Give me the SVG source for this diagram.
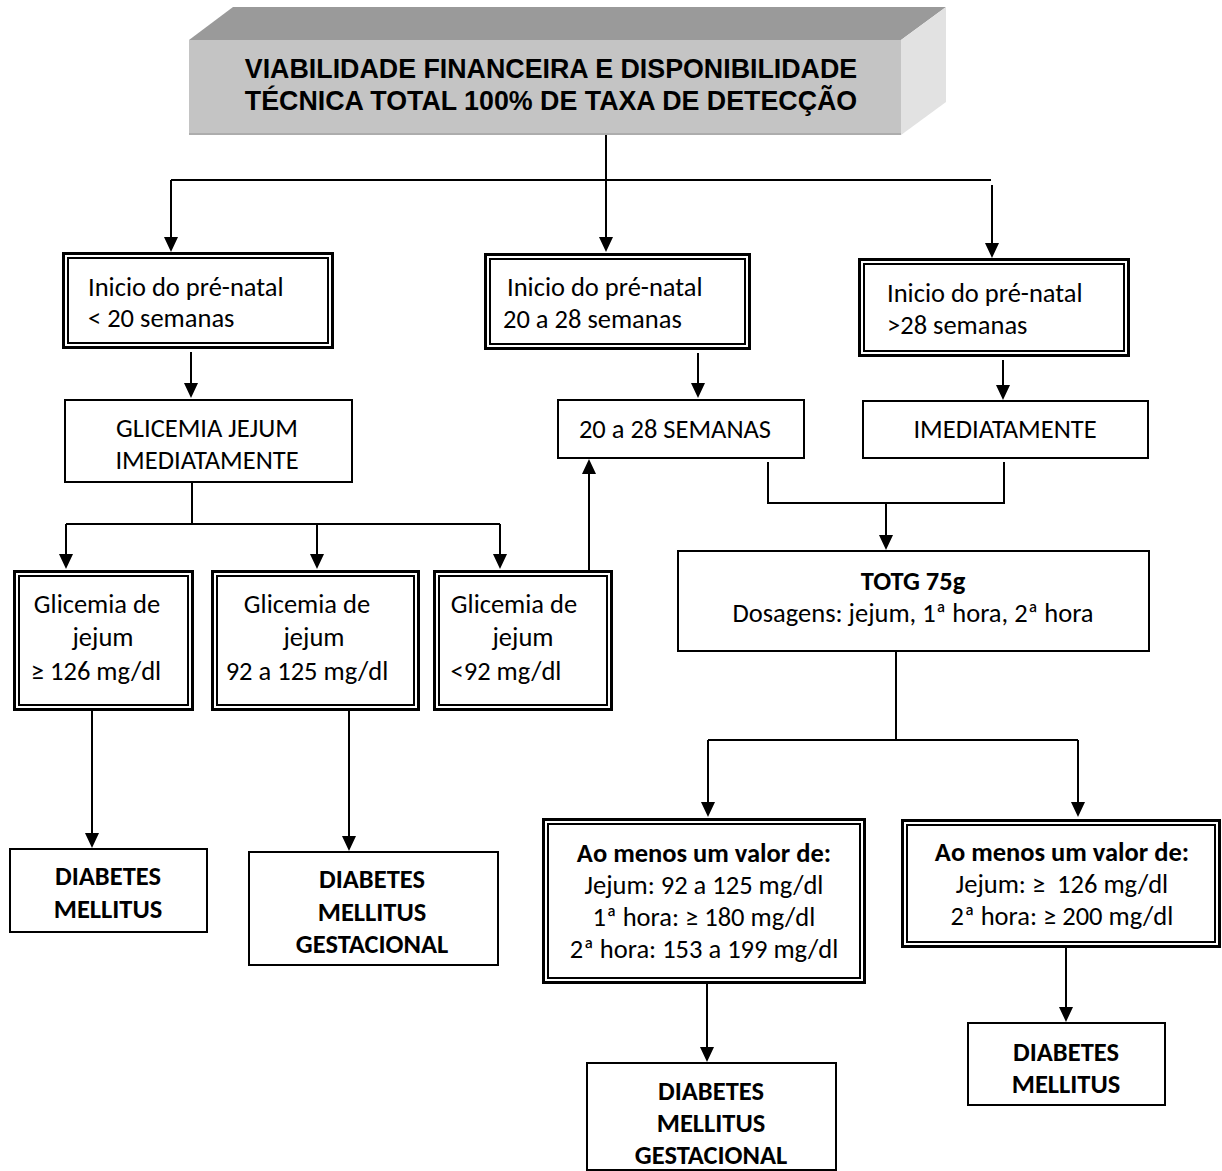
<svg xmlns="http://www.w3.org/2000/svg" width="1222" height="1171" viewBox="0 0 1222 1171">
  <style>
    .bo { fill: #fff; stroke: #000; stroke-width: 3; }
    .bi { fill: none; stroke: #000; stroke-width: 2; }
    .box { fill: #fff; stroke: #000; stroke-width: 2; }
    .ln { fill: none; stroke: #000; stroke-width: 2; }
    .ar { marker-end: url(#ah); }
    .t { font-family: Carlito, Calibri, Lato, sans-serif; font-size: 26.5px; fill: #000; white-space: pre; }
    .b { font-weight: bold; }
    .c { text-anchor: middle; }
    .h { font-family: "Liberation Sans", Arial, sans-serif; font-weight: bold; font-size: 26.8px; text-anchor: middle; fill: #000; }
  </style>
  <defs>
    <marker id="ah" markerUnits="userSpaceOnUse" markerWidth="15" markerHeight="14" viewBox="0 0 15 14" refX="11" refY="7" orient="auto">
      <path d="M0,0 L15,7 L0,14 z" fill="#000"/>
    </marker>
  </defs>
  <rect width="1222" height="1171" fill="#fff"/>

  <!-- 3D title block -->
  <g id="header">
    <polygon points="189,40 233,7 946,7 901,40" fill="#9a9a9a"/>
    <polygon points="901,40 946,7 946,102 901,135" fill="#e2e2e2"/>
    <rect x="189" y="40" width="712" height="95" fill="#c4c4c4"/>
    <line x1="189" y1="134" x2="901" y2="134" stroke="#adadad" stroke-width="2"/>
    <text class="h" x="551" y="78">VIABILIDADE FINANCEIRA E DISPONIBILIDADE</text>
    <text class="h" x="551" y="110">TÉCNICA TOTAL 100% DE TAXA DE DETECÇÃO</text>
  </g>

  <!-- connectors -->
  <g id="connectors">
    <path class="ln ar" d="M606,135 V248"/>
    <path class="ln" d="M171,180 H991"/>
    <path class="ln ar" d="M171,180 V248"/>
    <path class="ln ar" d="M992,185 V254"/>
    <path class="ln ar" d="M191,352 V394"/>
    <path class="ln ar" d="M698,353 V394"/>
    <path class="ln ar" d="M1003,360 V396"/>
    <path class="ln" d="M768,462 V503 H1004 V462"/>
    <path class="ln ar" d="M886,503 V546"/>
    <path class="ln" d="M192,482 V524 M66,524 H500"/>
    <path class="ln ar" d="M66,524 V565"/>
    <path class="ln ar" d="M317,524 V565"/>
    <path class="ln ar" d="M500,524 V565"/>
    <path class="ln ar" d="M589,570 V463"/>
    <path class="ln ar" d="M92,711 V844"/>
    <path class="ln ar" d="M349,711 V847"/>
    <path class="ln" d="M896,651 V740 M708,740 H1078"/>
    <path class="ln ar" d="M708,740 V813"/>
    <path class="ln ar" d="M1078,740 V813"/>
    <path class="ln ar" d="M707,984 V1058"/>
    <path class="ln ar" d="M1066,948 V1018"/>
  </g>

  <!-- start of prenatal care -->
  <g id="inicio-menos-20">
    <rect class="bo" x="63.5" y="253.5" width="269" height="94"/>
    <rect class="bi" x="68" y="258" width="260" height="85"/>
    <text class="t" x="88" y="296">Inicio do pré-natal</text>
    <text class="t" x="88" y="327">&lt; 20 semanas</text>
  </g>
  <g id="inicio-20-28">
    <rect class="bo" x="485.5" y="254.5" width="264" height="94"/>
    <rect class="bi" x="490" y="259" width="255" height="85"/>
    <text class="t" x="507" y="296">Inicio do pré-natal</text>
    <text class="t" x="503" y="328">20 a 28 semanas</text>
  </g>
  <g id="inicio-mais-28">
    <rect class="bo" x="859.5" y="259.5" width="269" height="96"/>
    <rect class="bi" x="864" y="264" width="260" height="87"/>
    <text class="t" x="887" y="302">Inicio do pré-natal</text>
    <text class="t" x="887" y="334">&gt;28 semanas</text>
  </g>

  <!-- timing -->
  <g id="glicemia-jejum">
    <rect class="box" x="65" y="400" width="287" height="82"/>
    <text class="t c" x="207" y="437">GLICEMIA JEJUM</text>
    <text class="t c" x="207" y="469">IMEDIATAMENTE</text>
  </g>
  <g id="semanas-20-28">
    <rect class="box" x="558" y="400" width="246" height="58"/>
    <text class="t c" x="675" y="438">20 a 28 SEMANAS</text>
  </g>
  <g id="imediatamente">
    <rect class="box" x="863" y="401" width="285" height="57"/>
    <text class="t c" x="1005" y="438">IMEDIATAMENTE</text>
  </g>

  <!-- fasting glucose results -->
  <g id="jejum-126">
    <rect class="bo" x="14.5" y="571.5" width="178" height="138"/>
    <rect class="bi" x="19" y="576" width="169" height="129"/>
    <text class="t c" x="97" y="613">Glicemia de</text>
    <text class="t c" x="103" y="646">jejum</text>
    <text class="t c" x="96" y="680">≥ 126 mg/dl</text>
  </g>
  <g id="jejum-92-125">
    <rect class="bo" x="212.5" y="571.5" width="206" height="138"/>
    <rect class="bi" x="217" y="576" width="197" height="129"/>
    <text class="t c" x="307" y="613">Glicemia de</text>
    <text class="t c" x="314" y="646">jejum</text>
    <text class="t c" x="307" y="680">92 a 125 mg/dl</text>
  </g>
  <g id="jejum-menos-92">
    <rect class="bo" x="434.5" y="571.5" width="177" height="138"/>
    <rect class="bi" x="439" y="576" width="168" height="129"/>
    <text class="t c" x="514" y="613">Glicemia de</text>
    <text class="t c" x="523" y="646">jejum</text>
    <text class="t c" x="506" y="680">&lt;92 mg/dl</text>
  </g>

  <g id="totg">
    <rect class="box" x="678" y="551" width="471" height="100"/>
    <text class="t b c" x="913" y="590">TOTG 75g</text>
    <text class="t c" x="913" y="622">Dosagens: jejum, 1ª hora, 2ª hora</text>
  </g>

  <g id="criterio-dmg">
    <rect class="bo" x="543.5" y="819.5" width="321" height="163"/>
    <rect class="bi" x="548" y="824" width="312" height="154"/>
    <text class="t b c" x="704" y="862">Ao menos um valor de:</text>
    <text class="t c" x="704" y="894">Jejum: 92 a 125 mg/dl</text>
    <text class="t c" x="704" y="926">1ª hora: ≥ 180 mg/dl</text>
    <text class="t c" x="704" y="958">2ª hora: 153 a 199 mg/dl</text>
  </g>
  <g id="criterio-dm">
    <rect class="bo" x="902.5" y="820.5" width="317" height="126"/>
    <rect class="bi" x="907" y="825" width="308" height="117"/>
    <text class="t b c" x="1062" y="861">Ao menos um valor de:</text>
    <text class="t c" x="1062" y="893">Jejum: ≥  126 mg/dl</text>
    <text class="t c" x="1062" y="925">2ª hora: ≥ 200 mg/dl</text>
  </g>

  <!-- diagnoses -->
  <g id="dm-1">
    <rect class="box" x="10" y="849" width="197" height="83"/>
    <text class="t b c" x="108" y="885">DIABETES</text>
    <text class="t b c" x="108" y="918">MELLITUS</text>
  </g>
  <g id="dmg-1">
    <rect class="box" x="249" y="852" width="249" height="113"/>
    <text class="t b c" x="372" y="888">DIABETES</text>
    <text class="t b c" x="372" y="921">MELLITUS</text>
    <text class="t b c" x="372" y="953">GESTACIONAL</text>
  </g>
  <g id="dmg-2">
    <rect class="box" x="587" y="1063" width="249" height="107"/>
    <text class="t b c" x="711" y="1100">DIABETES</text>
    <text class="t b c" x="711" y="1132">MELLITUS</text>
    <text class="t b c" x="711" y="1164">GESTACIONAL</text>
  </g>
  <g id="dm-2">
    <rect class="box" x="968" y="1023" width="197" height="82"/>
    <text class="t b c" x="1066" y="1061">DIABETES</text>
    <text class="t b c" x="1066" y="1093">MELLITUS</text>
  </g>
</svg>
